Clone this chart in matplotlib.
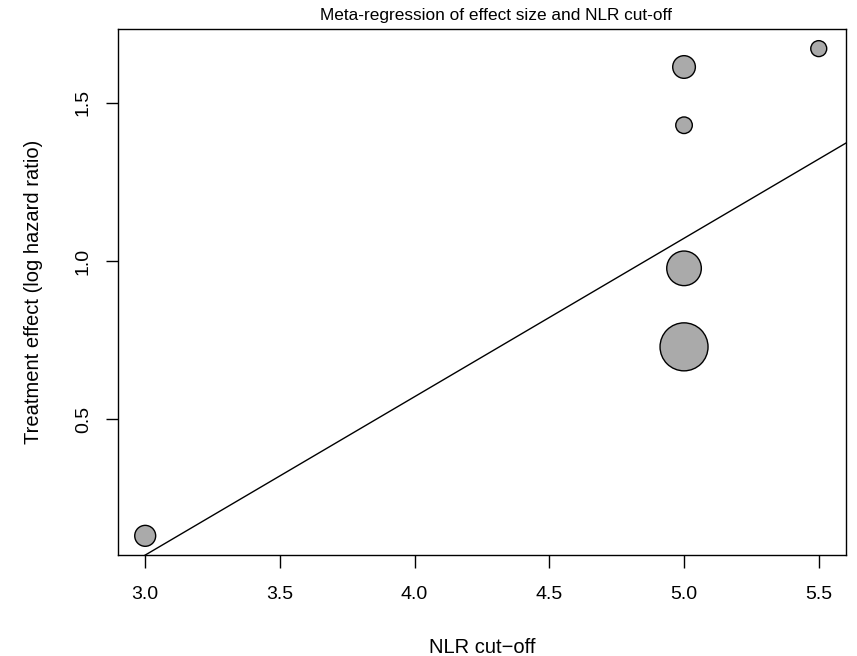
import matplotlib
matplotlib.use("Agg")
import matplotlib.pyplot as plt
import numpy as np

# Data
nlr_cutoff = [3.0, 5.0, 5.0, 5.0, 5.0, 5.5]
log_hr = [0.132, 0.729, 0.977, 1.429, 1.613, 1.671]
study_weight = [8.8, 46.2, 24.0, 5.5, 10.3, 5.1]  # relative weights (%)
reg_intercept = -1.43
reg_slope = 0.5004
x_ticks = [3.0, 3.5, 4.0, 4.5, 5.0, 5.5]
y_ticks = [0.5, 1.0, 1.5]
title = "Meta-regression of effect size and NLR cut-off"

plt.rcParams['font.family'] = ['Liberation Sans', 'DejaVu Sans']

W, H = 857, 656
fig = plt.figure(figsize=(W / 100, H / 100), dpi=100)
ax = fig.add_axes([0.138, 0.1535, 0.8488, 0.8018])

w = np.array(study_weight)
radius_px = 24.0 / np.sqrt(w.max()) * np.sqrt(w)
s = (2 * radius_px * 0.72) ** 2
ax.scatter(nlr_cutoff, log_hr, s=s, facecolor='#aaaaaa', edgecolor='black',
           linewidth=1.0, zorder=3)

xl = (2.9, 5.6)
xs = np.array(xl)
ax.plot(xs, reg_intercept + reg_slope * xs, color='black', lw=1.0, zorder=2)

ax.set_xlim(*xl)
ax.set_ylim(0.0705, 1.732)
ax.set_xticks(x_ticks)
ax.set_xticklabels([f"{v:.1f}" for v in x_ticks])
ax.set_yticks(y_ticks)
ax.set_yticklabels([f"{v:.1f}" for v in y_ticks], rotation=90, va='center')
ax.tick_params(axis='both', direction='out', length=9, width=1.0, labelsize=14,
               color='black', labelcolor='black')
ax.tick_params(axis='x', pad=13)
ax.tick_params(axis='y', pad=10)
for sp in ax.spines.values():
    sp.set_linewidth(1.0)
    sp.set_color('black')

ax.set_xlabel("NLR cut\u2212off", fontsize=14.5, labelpad=25)
ax.set_ylabel("Treatment effect (log hazard ratio)", fontsize=14.5, labelpad=23)

# Title: left edge ~320 px, baseline ~20 px from top, width ~352 px
t = fig.text(320 / W, 1 - 20 / H, title, ha='left', va='baseline', fontsize=12.3)
renderer = fig.canvas.get_renderer()
tw = t.get_window_extent(renderer).width
t.set_fontsize(12.3 * 352 / tw)

fig.savefig("out.png", dpi=100)
